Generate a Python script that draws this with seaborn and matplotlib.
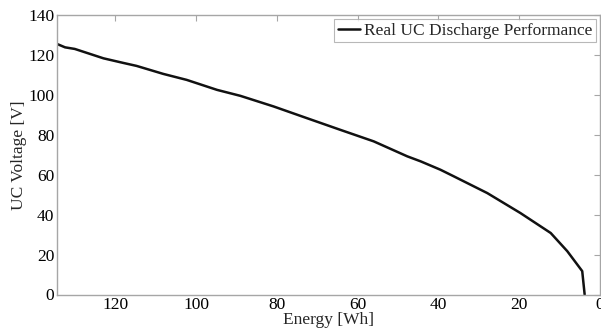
import matplotlib
matplotlib.use("Agg")
import matplotlib.pyplot as plt
import seaborn as sns
import pandas as pd

energy = [134.4, 132.4, 130.0, 122.9, 118.0, 114.7, 108.1, 102.3, 94.8, 89.0,
          80.8, 72.5, 64.3, 56.0, 47.7, 44.4, 39.5, 36.2, 27.9, 19.7, 12.2,
          8.1, 4.4, 3.8]
voltage = [125.5, 123.8, 123.0, 118.3, 116.0, 114.5, 110.5, 107.5, 102.5, 99.5,
           94.2, 88.3, 82.5, 76.7, 69.2, 66.7, 62.5, 59.2, 50.8, 40.8, 30.8,
           21.7, 11.7, 0.0]
series_name = "Real UC Discharge Performance"
x_ticks = [120, 100, 80, 60, 40, 20, 0]
y_ticks = [0, 20, 40, 60, 80, 100, 120, 140]

sns.set_style("white")
plt.rcParams["font.family"] = ["Liberation Serif", "DejaVu Serif"]

df = pd.DataFrame({"Energy": energy, "Voltage": voltage, "Series": series_name})

fig = plt.figure(figsize=(6.01, 3.34), dpi=100)
ax = fig.add_axes([57 / 601, (334 - 294.5) / 334, 543 / 601, (294.5 - 15) / 334])

sns.lineplot(data=df, x="Energy", y="Voltage", hue="Series", palette=["#111111"],
             sort=False, estimator=None, linewidth=1.8, ax=ax)

ax.set_xlim(134.4, 0)
ax.set_ylim(0, 140)
ax.set_xticks(x_ticks)
ax.set_yticks(y_ticks)
ax.set_xticklabels([str(t) for t in x_ticks])
ax.set_yticklabels([str(t) for t in y_ticks])

spine_color = "#a6a6a6"
for s in ax.spines.values():
    s.set_visible(True)
    s.set_color(spine_color)
    s.set_linewidth(1.0)

fs = 12.5
ax.tick_params(axis="both", direction="in", length=4, width=0.8, color=spine_color,
               labelsize=fs, labelcolor="black", top=True, right=True, pad=2)

ax.set_xlabel("Energy [Wh]", fontsize=fs, labelpad=-1)
ax.set_ylabel("UC Voltage [V]", fontsize=fs, labelpad=1)

leg = ax.legend(loc="upper right", fontsize=fs, frameon=True, fancybox=False,
                borderaxespad=0.25, handlelength=1.3, handletextpad=0.2,
                borderpad=0.2)
leg.get_frame().set_edgecolor(spine_color)
leg.get_frame().set_linewidth(0.8)
for line in leg.get_lines():
    line.set_linewidth(1.8)

fig.savefig("out.png", dpi=100)
